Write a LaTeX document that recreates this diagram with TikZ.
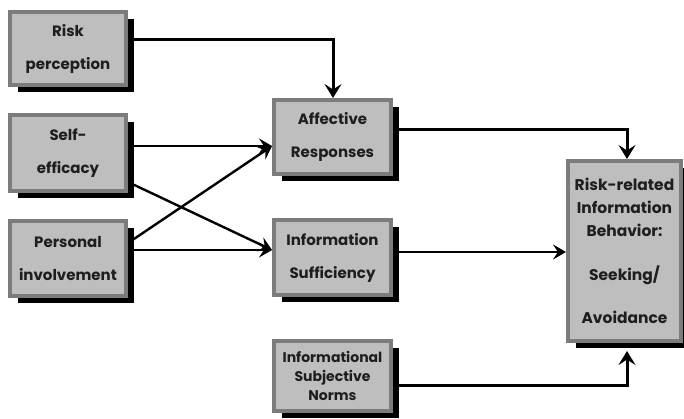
\documentclass[tikz,border=0pt]{standalone}
\usepackage{fontspec}
\setmainfont{Poppins}
\usetikzlibrary{arrows.meta,shadows,backgrounds}
\definecolor{boxfill}{HTML}{BEBEBE}
\definecolor{boxline}{HTML}{7C7C7C}
\definecolor{txt}{HTML}{1E1E1E}
\tikzset{
  box/.style={draw=boxline, line width=4pt, fill=boxfill, text=txt,
    font=\bfseries\fontsize{15}{33}\selectfont, align=center, inner sep=0pt,
    drop shadow={shadow xshift=8pt, shadow yshift=-7pt, fill=black, opacity=1}},
  thin/.style={line width=2.4pt, -{Stealth[length=13pt,width=15pt,inset=5pt]}},
  thick/.style={line width=3pt, -{Stealth[length=14pt,width=17pt,inset=5.5pt]}},
}
\begin{document}
\begin{tikzpicture}[x=1pt,y=-1pt]
\useasboundingbox (0,0) rectangle (684,419);
\node[box, minimum width=116pt, minimum height=73pt] (rp) at (68,48.5) {Risk\\perception};
\node[box, minimum width=116pt, minimum height=76pt] (se) at (68,153) {Self-\\efficacy};
\node[box, minimum width=116pt, minimum height=75pt] (pi) at (68,258.5) {Personal\\involvement};
\node[box, minimum width=117pt, minimum height=74pt] (ar) at (332.5,137) {Affective\\Responses};
\node[box, minimum width=117pt, minimum height=75pt] (is) at (332.5,257.5) {Information\\Sufficiency};
\node[box, minimum width=117pt, minimum height=70pt, font=\bfseries\fontsize{14}{19}\selectfont] (sn) at (332.5,376) {Informational\\Subjective\\Norms};
\node[box, minimum width=113pt, minimum height=180pt, font=\bfseries\fontsize{15.5}{23}\selectfont] (rb) at (624.5,251) {Risk-related\\Information\\Behavior:\\[21pt]Seeking/\\[20pt]Avoidance};
\begin{scope}[on background layer]
\draw[thick] ([yshift=8.5pt]rp.east) -| ([xshift=0.5pt]ar.north);
\draw[thin] ([yshift=7pt]se.east) -- ([yshift=-9pt]ar.west);
\draw[thin] ([yshift=-29pt]se.east) -- ([yshift=7.5pt]is.west);
\draw[thin] ([yshift=15.5pt]pi.east) -- ([yshift=-9pt]ar.west);
\draw[thin] ([yshift=8.5pt]pi.east) -- ([yshift=7.5pt]is.west);
\draw[thick] ([yshift=7pt]ar.east) -| ([xshift=2.5pt]rb.north);
\draw[thin] ([yshift=5.5pt]is.east) -- ([yshift=-1pt]rb.west);
\draw[thick] ([yshift=-9pt]sn.east) -| ([xshift=2.5pt,yshift=-8pt]rb.south);
\end{scope}
\end{tikzpicture}
\end{document}
